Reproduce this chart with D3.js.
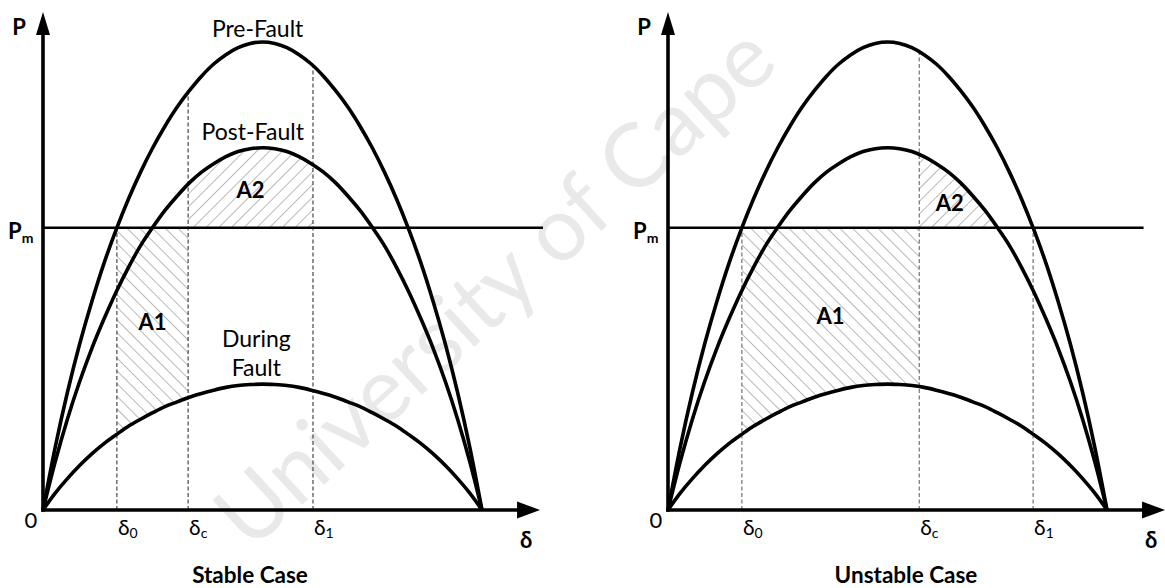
<!DOCTYPE html>
<html>
<head>
<meta charset="utf-8">
<script src="https://cdn.jsdelivr.net/npm/d3@7"></script>
<style>
  body { margin: 0; background: #fff; }
  svg { display: block; font-family: Lato, "Open Sans", sans-serif; }
</style>
</head>
<body>
<svg id="chart" width="1165" height="588"></svg>
<script>
// Rotor angle samples (degrees) shared by all power-angle curves
const delta = [0, 5, 10, 15, 20, 25, 30, 35, 40, 45, 50, 55, 60, 65, 70, 75, 80, 85, 90,
               95, 100, 105, 110, 115, 120, 125, 130, 135, 140, 145, 150, 155, 160, 165, 170, 175, 180];
// Electrical power (per unit of the pre-fault maximum)
const preFault = [0, 0.134, 0.251, 0.354, 0.445, 0.527, 0.599, 0.664, 0.722, 0.774, 0.820, 0.861, 0.896, 0.927, 0.953, 0.973, 0.988, 0.997, 1.0,
                  0.997, 0.988, 0.973, 0.953, 0.927, 0.896, 0.861, 0.820, 0.774, 0.722, 0.664, 0.599, 0.527, 0.445, 0.354, 0.251, 0.134, 0];
const postFault = [0, 0.103, 0.194, 0.274, 0.345, 0.408, 0.466, 0.518, 0.565, 0.604, 0.640, 0.671, 0.699, 0.722, 0.740, 0.755, 0.766, 0.772, 0.774,
                   0.772, 0.766, 0.755, 0.740, 0.722, 0.699, 0.671, 0.640, 0.604, 0.565, 0.518, 0.466, 0.408, 0.345, 0.274, 0.194, 0.103, 0];
const duringFault = [0, 0.036, 0.067, 0.095, 0.120, 0.142, 0.161, 0.179, 0.194, 0.208, 0.221, 0.231, 0.241, 0.249, 0.256, 0.262, 0.266, 0.268, 0.269,
                     0.268, 0.266, 0.262, 0.256, 0.249, 0.241, 0.231, 0.221, 0.208, 0.194, 0.179, 0.161, 0.142, 0.120, 0.095, 0.067, 0.036, 0];
// Mechanical input power
const mechanicalPower = 0.603;
// Characteristic angles per case: initial, clearing, maximum swing
const caseNames   = ["Stable Case", "Unstable Case"];
const delta0      = [30.3, 30.3];
const deltaClear  = [59.5, 103];
const delta1      = [110.7, 149.7];
const areaLabels  = ["A1", "A2"];
const curveLabels = ["Pre-Fault", "Post-Fault", "During", "Fault"];

const svg = d3.select("#chart");
const defs = svg.append("defs");

// Diagonal hatch fills: A1 leans "\" and A2 leans "/"
function hatch(id, angle) {
  defs.append("pattern")
    .attr("id", id)
    .attr("patternUnits", "userSpaceOnUse")
    .attr("width", 9).attr("height", 9)
    .attr("patternTransform", `rotate(${angle})`)
    .append("line")
    .attr("x1", 0).attr("y1", -1).attr("x2", 0).attr("y2", 10)
    .attr("stroke", "#a2a2a2").attr("stroke-width", 1.5);
}
hatch("hatchA1", -45);
hatch("hatchA2", 45);

// Faint watermark behind the plots
svg.append("text")
  .attr("transform", "translate(498,290) rotate(-42.5)")
  .attr("text-anchor", "middle")
  .attr("dy", 26)
  .attr("font-size", 89)
  .attr("fill", "#e9e9e9")
  .text("University of Cape");

const y = d3.scaleLinear().domain([0, 1]).range([510, 42]);
const panelLeft = [43, 668];
const yTop = 1.064, xEnd = 203.8;
const pmEnd = [205, 195];
const smooth = d3.curveCatmullRom.alpha(0.5);

caseNames.forEach((caseName, i) => {
  const x = d3.scaleLinear().domain([0, 180]).range([panelLeft[i], panelLeft[i] + 439]);
  const g = svg.append("g");
  const lineOf = d3.line().x((d, j) => x(delta[j])).y(d => y(d)).curve(smooth);
  const areaTo = level => d3.area().x((d, j) => x(delta[j])).y0(y(level)).y1(d => y(d)).curve(smooth);

  // Clip regions for the hatched areas and the dashed angle markers
  const clipA1 = `clipA1-${i}`, clipA2 = `clipA2-${i}`, clipPre = `clipPre-${i}`;
  defs.append("clipPath").attr("id", clipA1).append("rect")
    .attr("x", x(delta0[i])).attr("width", x(deltaClear[i]) - x(delta0[i]))
    .attr("y", y(mechanicalPower)).attr("height", y(0) - y(mechanicalPower));
  defs.append("clipPath").attr("id", clipA2).append("rect")
    .attr("x", x(deltaClear[i])).attr("width", x(delta1[i]) - x(deltaClear[i]))
    .attr("y", 0).attr("height", y(mechanicalPower));
  defs.append("clipPath").attr("id", clipPre).append("path")
    .attr("d", areaTo(0)(preFault));

  // A1: accelerating area between Pm and the during-fault curve
  g.append("path")
    .attr("d", areaTo(mechanicalPower)(duringFault))
    .attr("fill", "url(#hatchA1)")
    .attr("clip-path", `url(#${clipA1})`);
  // A2: decelerating area between the post-fault curve and Pm
  g.append("path")
    .attr("d", areaTo(mechanicalPower)(postFault))
    .attr("fill", "url(#hatchA2)")
    .attr("clip-path", `url(#${clipA2})`);

  // Dashed markers at δ0, δc, δ1 rising to the pre-fault curve
  [delta0[i], deltaClear[i], delta1[i]].forEach(a => {
    g.append("line")
      .attr("x1", x(a)).attr("x2", x(a))
      .attr("y1", y(0)).attr("y2", y(1.1))
      .attr("stroke", i === 0 ? "#222" : "#555")
      .attr("stroke-width", 1)
      .attr("stroke-dasharray", "4,2.5")
      .attr("clip-path", `url(#${clipPre})`);
  });

  // Mechanical power line
  g.append("line")
    .attr("x1", x(0)).attr("x2", x(pmEnd[i]))
    .attr("y1", y(mechanicalPower)).attr("y2", y(mechanicalPower))
    .attr("stroke", "#000").attr("stroke-width", 2.4);

  // Power-angle curves
  [preFault, postFault, duringFault].forEach(series => {
    g.append("path")
      .attr("d", lineOf(series))
      .attr("fill", "none")
      .attr("stroke", "#000")
      .attr("stroke-width", 3.6)
      .attr("stroke-linejoin", "round");
  });

  // Axes with arrowheads
  const ox = x(0), oy = y(0);
  g.append("line").attr("x1", ox).attr("x2", ox).attr("y1", oy + 1.8).attr("y2", y(yTop) + 18)
    .attr("stroke", "#000").attr("stroke-width", 3.6);
  g.append("path")
    .attr("d", `M${ox},${y(yTop)} L${ox - 7},${y(yTop) + 23} L${ox + 7},${y(yTop) + 23} Z`)
    .attr("fill", "#000");
  g.append("line").attr("x1", ox - 1.8).attr("x2", x(xEnd) - 18).attr("y1", oy).attr("y2", oy)
    .attr("stroke", "#000").attr("stroke-width", 3.6);
  g.append("path")
    .attr("d", `M${x(xEnd)},${oy} L${x(xEnd) - 23},${oy - 8.5} L${x(xEnd) - 23},${oy + 8.5} Z`)
    .attr("fill", "#000");

  // Axis labels
  g.append("text").attr("x", ox - 24).attr("y", y(yTop) + 23)
    .attr("text-anchor", "middle").attr("font-size", 22).attr("font-weight", 700).text("P");
  g.append("text").attr("x", x(xEnd) - 14).attr("y", oy + 38)
    .attr("text-anchor", "middle").attr("font-size", 22).attr("font-weight", 700).text("δ");
  g.append("text").attr("x", ox - 12).attr("y", oy + 18)
    .attr("text-anchor", "middle").attr("font-size", 22).text("0");

  const pm = g.append("text").attr("x", ox - 35).attr("y", y(mechanicalPower) + 11)
    .attr("font-size", 22).attr("font-weight", 700);
  pm.append("tspan").text("P");
  pm.append("tspan").attr("dy", 4).attr("font-size", 14).text("m");

  // Angle tick labels with subscripts
  [[delta0[i], "0"], [deltaClear[i], "c"], [delta1[i], "1"]].forEach(([a, sub]) => {
    const t = g.append("text").attr("x", x(a) + 1).attr("y", oy + 25).attr("font-size", 21);
    t.append("tspan").text("δ");
    t.append("tspan").attr("dy", 3).attr("font-size", 14).text(sub);
  });

  // Area labels
  const a1Y = i === 0 ? 0.385 : 0.397;
  const a2Y = i === 0 ? 0.667 : 0.639;
  const a2X = i === 0 ? (deltaClear[i] + delta1[i]) / 2 : 115.5;
  g.append("text").attr("x", x((delta0[i] + deltaClear[i]) / 2)).attr("y", y(a1Y))
    .attr("text-anchor", "middle").attr("font-size", 22).attr("font-weight", 700).text(areaLabels[0]);
  g.append("text").attr("x", x(a2X)).attr("y", y(a2Y))
    .attr("text-anchor", "middle").attr("font-size", 22).attr("font-weight", 700).text(areaLabels[1]);

  // Case caption
  g.append("text").attr("x", i === 0 ? 250 : 906).attr("y", 583)
    .attr("text-anchor", "middle").attr("font-size", 22.5).attr("font-weight", 700).text(caseName);

  // Curve names (stable case only)
  if (i === 0) {
    g.append("text").attr("x", x(88)).attr("y", y(1) - 5)
      .attr("text-anchor", "middle").attr("font-size", 23).text(curveLabels[0]);
    g.append("text").attr("x", x(86)).attr("y", y(0.774) - 8)
      .attr("text-anchor", "middle").attr("font-size", 23).text(curveLabels[1]);
    g.append("text").attr("x", x(87.5)).attr("y", 347)
      .attr("text-anchor", "middle").attr("font-size", 23).text(curveLabels[2]);
    g.append("text").attr("x", x(87.5)).attr("y", 376)
      .attr("text-anchor", "middle").attr("font-size", 23).text(curveLabels[3]);
  }
});
</script>
</body>
</html>
